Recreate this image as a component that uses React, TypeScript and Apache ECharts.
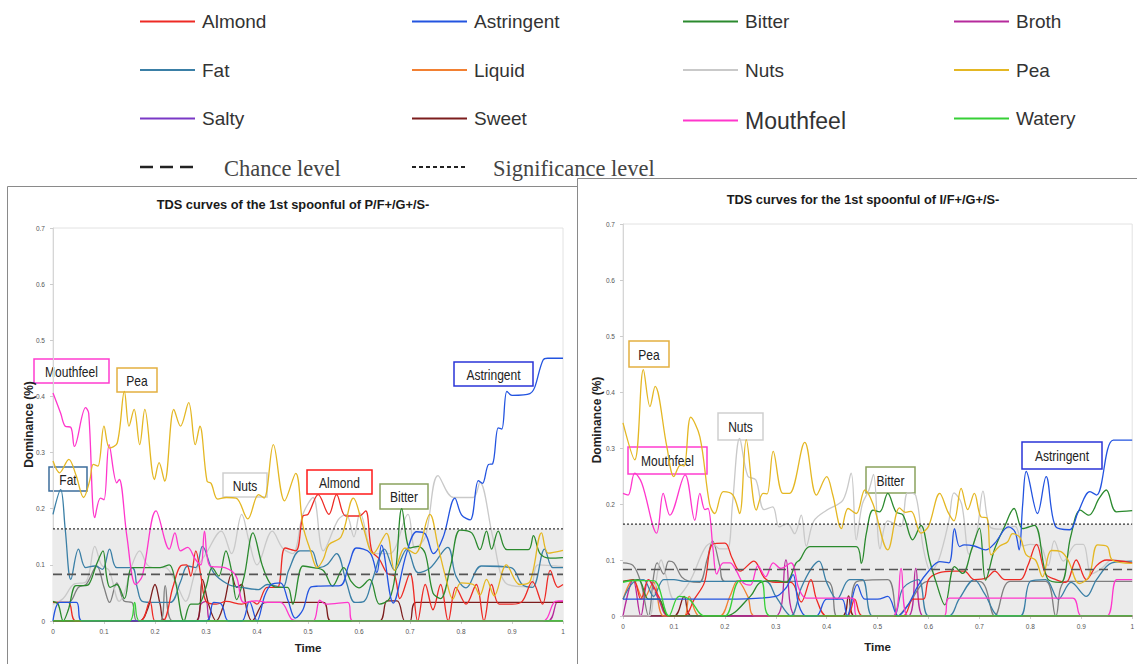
import React, { useEffect, useRef } from 'react';
import * as echarts from 'echarts';

type Pt = [number, number];

const TITLE_LEFT = 'TDS curves of the 1st spoonful of P/F+/G+/S-';
const TITLE_RIGHT = 'TDS curves for the 1st spoonful of I/F+/G+/S-';
const X_NAME = 'Time';
const Y_NAME = 'Dominance (%)';
const CHANCE_LEVEL = 0.083;
const SIGNIFICANCE_LEVEL = 0.164;

const LEGEND_COLUMNS = [
  ['Almond', 'Fat', 'Salty'],
  ['Astringent', 'Liquid', 'Sweet'],
  ['Bitter', 'Nuts', 'Mouthfeel'],
  ['Broth', 'Pea', 'Watery'],
];
const LEGEND_LEFTS = [140, 412, 683, 954];

const COLORS: Record<string, string> = {
  Almond: '#ee2a24',
  Astringent: '#2354e0',
  Bitter: '#2b8a2e',
  Broth: '#b62a9c',
  Fat: '#3a7fa6',
  Liquid: '#f28032',
  Nuts: '#c9c9c9',
  Pea: '#e4b723',
  Salty: '#7a38c6',
  Sweet: '#7c1d1d',
  Mouthfeel: '#ff36cc',
  Watery: '#36d036',
  Unlabelled: '#7f7f7f',
};

// ---------- Left chart: P/F+/G+/S- ----------
const P1_PEA: Pt[] = [[0,0.285],[0.013,0.264],[0.031,0.288],[0.045,0.26],[0.06,0.22],[0.072,0.25],[0.079,0.279],[0.088,0.276],[0.1,0.347],[0.111,0.308],[0.126,0.317],[0.14,0.409],[0.149,0.347],[0.159,0.377],[0.17,0.314],[0.18,0.377],[0.199,0.252],[0.208,0.282],[0.219,0.249],[0.237,0.377],[0.25,0.347],[0.266,0.389],[0.279,0.314],[0.288,0.347],[0.302,0.249],[0.31,0.245],[0.323,0.217],[0.34,0.22],[0.359,0.219],[0.382,0.182],[0.403,0.225],[0.414,0.219],[0.432,0.314],[0.454,0.214],[0.476,0.263],[0.49,0.17],[0.505,0.125],[0.518,0.095],[0.53,0.11],[0.541,0.136],[0.565,0.15],[0.589,0.219],[0.608,0.168],[0.628,0.12],[0.654,0.156],[0.67,0.09],[0.69,0.13],[0.71,0.12],[0.739,0.19],[0.755,0.133],[0.771,0.074],[0.784,0.039],[0.8,0.068],[0.824,0.065],[0.837,0.046],[0.85,0.074],[0.865,0.045],[0.889,0.1],[0.915,0.065],[0.935,0.07],[0.958,0.157],[0.971,0.121],[1,0.126]];
const P1_MOUTHFEEL: Pt[] = [[0,0.406],[0.015,0.37],[0.024,0.347],[0.035,0.345],[0.042,0.311],[0.064,0.38],[0.07,0.37],[0.082,0.184],[0.093,0.219],[0.1,0.216],[0.11,0.314],[0.125,0.246],[0.13,0.252],[0.145,0.15],[0.162,0.065],[0.175,0.08],[0.202,0.196],[0.228,0.128],[0.239,0.157],[0.25,0.125],[0.264,0.131],[0.279,0.11],[0.29,0.1],[0.297,0.16],[0.308,0.098],[0.337,0.095],[0.359,0.08],[0.374,0.033],[0.4,0.036],[0.42,0.033],[0.446,0.033],[0.468,0.003],[0.48,0],[0.51,0],[0.523,0.037],[0.535,0.03],[0.578,0.033],[0.588,0],[0.96,0],[0.985,0.035],[1,0.036]];
const P1_ASTRINGENT: Pt[] = [[0,0],[0.013,0.033],[0.046,0.033],[0.057,0],[0.3,0],[0.315,0.033],[0.33,0.03],[0.344,0],[0.37,0],[0.385,0.035],[0.4,0],[0.415,0.045],[0.428,0.065],[0.446,0.068],[0.461,0.036],[0.475,0.005],[0.49,0.02],[0.505,0.06],[0.52,0.062],[0.563,0.063],[0.58,0.1],[0.595,0.13],[0.622,0.121],[0.635,0.086],[0.644,0.135],[0.667,0.032],[0.693,0.12],[0.713,0.159],[0.73,0.155],[0.746,0.12],[0.765,0.149],[0.788,0.219],[0.801,0.189],[0.818,0.18],[0.834,0.25],[0.842,0.245],[0.854,0.279],[0.862,0.28],[0.873,0.344],[0.88,0.342],[0.89,0.409],[0.9,0.402],[0.935,0.405],[0.961,0.465],[0.97,0.468],[1,0.468]];
const P1_NUTS: Pt[] = [[0,0.03],[0.02,0.04],[0.04,0.065],[0.065,0.07],[0.082,0.133],[0.095,0.1],[0.11,0.09],[0.13,0.035],[0.14,0.05],[0.155,0.1],[0.17,0.125],[0.185,0.1],[0.2,0.095],[0.22,0.095],[0.24,0.07],[0.26,0.035],[0.28,0.09],[0.3,0.12],[0.33,0.16],[0.35,0.12],[0.37,0.19],[0.385,0.14],[0.4,0.1],[0.43,0.16],[0.45,0.13],[0.47,0.12],[0.49,0.19],[0.51,0.22],[0.53,0.125],[0.559,0.18],[0.575,0.19],[0.59,0.15],[0.602,0.192],[0.63,0.12],[0.66,0.12],[0.696,0.19],[0.71,0.13],[0.73,0.15],[0.755,0.259],[0.785,0.22],[0.824,0.22],[0.837,0.247],[0.863,0.147],[0.89,0.066],[0.935,0.061],[0.951,0.1],[1,0.097]];
const P1_ALMOND: Pt[] = [[0,0.033],[0.03,0.033],[0.045,0],[0.17,0],[0.19,0.035],[0.2,0],[0.215,0],[0.235,0.06],[0.25,0.098],[0.262,0.1],[0.27,0.08],[0.28,0.125],[0.29,0.08],[0.3,0.035],[0.32,0.03],[0.34,0.035],[0.37,0.03],[0.39,0.035],[0.4,0.03],[0.42,0.06],[0.44,0.06],[0.455,0.13],[0.476,0.125],[0.49,0.187],[0.5,0.19],[0.52,0.225],[0.541,0.19],[0.556,0.225],[0.574,0.187],[0.6,0.187],[0.613,0.196],[0.625,0.125],[0.64,0.11],[0.655,0.085],[0.67,0.08],[0.68,0.04],[0.7,0.085],[0.715,0],[0.73,0.065],[0.745,0.02],[0.76,0.065],[0.775,0],[0.79,0.06],[0.81,0.03],[0.83,0.065],[0.845,0],[0.86,0.065],[0.875,0.03],[0.9,0.03],[0.92,0.035],[0.94,0.07],[0.96,0.03],[0.975,0.09],[0.99,0.06],[1,0.065]];
const P1_BITTER: Pt[] = [[0,0.035],[0.01,0.03],[0.02,0],[0.03,0.02],[0.045,0.063],[0.06,0.063],[0.07,0.065],[0.085,0.1],[0.098,0.125],[0.105,0.08],[0.112,0.06],[0.125,0.065],[0.14,0.04],[0.155,0.095],[0.175,0.095],[0.21,0.095],[0.228,0.1],[0.24,0.07],[0.257,0],[0.27,0.03],[0.285,0.03],[0.3,0.06],[0.312,0.095],[0.325,0.08],[0.339,0.125],[0.35,0.09],[0.36,0.038],[0.375,0.08],[0.392,0.157],[0.41,0.1],[0.425,0.068],[0.44,0.06],[0.46,0.06],[0.47,0.03],[0.49,0.098],[0.51,0.095],[0.53,0.09],[0.548,0.062],[0.57,0.095],[0.585,0.07],[0.6,0.059],[0.621,0.074],[0.64,0.03],[0.66,0.04],[0.672,0.09],[0.684,0.2],[0.7,0.13],[0.716,0.133],[0.73,0.12],[0.745,0.05],[0.76,0.04],[0.78,0.1],[0.798,0.162],[0.821,0.157],[0.837,0.127],[0.85,0.16],[0.86,0.128],[0.873,0.16],[0.89,0.127],[0.932,0.127],[0.942,0.152],[0.955,0.12],[0.975,0.112],[1,0.113]];
const P1_FAT: Pt[] = [[0,0.19],[0.015,0.234],[0.024,0.163],[0.035,0.074],[0.05,0.128],[0.064,0.095],[0.082,0.098],[0.097,0.092],[0.111,0.128],[0.125,0.095],[0.155,0.095],[0.165,0.06],[0.175,0.035],[0.2,0.033],[0.23,0.033],[0.25,0.07],[0.264,0.098],[0.28,0.095],[0.293,0.133],[0.315,0.086],[0.344,0.065],[0.37,0.06],[0.403,0.056],[0.42,0.065],[0.45,0.06],[0.462,0.09],[0.484,0.125],[0.507,0.125],[0.522,0.095],[0.537,0.1],[0.556,0.12],[0.575,0.07],[0.592,0.033],[0.61,0.035],[0.625,0.07],[0.65,0.128],[0.67,0.09],[0.694,0.128],[0.716,0.086],[0.74,0.095],[0.774,0.131],[0.79,0.08],[0.81,0.059],[0.84,0.098],[0.898,0.095],[0.92,0.065],[0.94,0.06],[0.964,0.128],[0.98,0.095],[1,0.095]];
const P1_SWEET: Pt[] = [[0,0],[0.17,0],[0.185,0.02],[0.2,0.065],[0.21,0.03],[0.22,0],[0.28,0],[0.293,0.074],[0.305,0.03],[0.32,0],[0.335,0.03],[0.35,0.083],[0.36,0.06],[0.37,0.065],[0.38,0.02],[0.39,0],[0.41,0.03],[0.42,0.033],[0.53,0.033],[0.545,0],[0.64,0],[0.655,0.036],[0.675,0.036],[0.69,0],[0.7,0],[0.712,0.033],[1,0.033]];
const P1_UNLABELLED: Pt[] = [[0,0.033],[0.03,0.033],[0.05,0.06],[0.065,0.065],[0.086,0.098],[0.1,0.06],[0.111,0.033],[0.125,0.068],[0.14,0.035],[0.155,0.033],[0.165,0],[0.21,0],[0.22,0.063],[0.235,0],[1,0]];
const P1_BROTH: Pt[] = [[0,0],[0.28,0],[0.29,0.03],[0.3,0.035],[0.31,0],[0.97,0],[0.99,0.035],[1,0.035]];
const P1_LIQUID: Pt[] = [[0,0],[1,0]];
const P1_SALTY: Pt[] = [[0,0],[1,0]];
const P1_WATERY: Pt[] = [[0,0],[0.15,0],[0.16,0.033],[0.17,0],[1,0]];

// ---------- Right chart: I/F+/G+/S- ----------
const P2_PEA: Pt[] = [[0,0.345],[0.023,0.279],[0.04,0.44],[0.053,0.374],[0.063,0.41],[0.086,0.303],[0.1,0.249],[0.113,0.27],[0.12,0.268],[0.133,0.355],[0.151,0.32],[0.17,0.2],[0.18,0.183],[0.197,0.222],[0.216,0.216],[0.229,0.183],[0.242,0.315],[0.262,0.189],[0.275,0.219],[0.283,0.218],[0.295,0.294],[0.314,0.219],[0.327,0.219],[0.357,0.31],[0.38,0.216],[0.4,0.249],[0.412,0.216],[0.429,0.156],[0.442,0.192],[0.458,0.183],[0.475,0.225],[0.491,0.2],[0.52,0.118],[0.543,0.193],[0.555,0.185],[0.566,0.187],[0.585,0.148],[0.6,0.16],[0.622,0.219],[0.638,0.186],[0.65,0.17],[0.664,0.228],[0.677,0.19],[0.69,0.219],[0.703,0.177],[0.715,0.175],[0.723,0.109],[0.74,0.125],[0.755,0.132],[0.765,0.147],[0.78,0.14],[0.792,0.109],[0.81,0.1],[0.824,0.07],[0.841,0.117],[0.86,0.115],[0.874,0.1],[0.896,0.058],[0.915,0.07],[0.932,0.127],[0.951,0.124],[0.961,0.1],[1,0.094]];
const P2_MOUTHFEEL: Pt[] = [[0,0.219],[0.01,0.216],[0.023,0.255],[0.037,0.237],[0.066,0.148],[0.079,0.219],[0.092,0.18],[0.122,0.252],[0.141,0.171],[0.151,0.219],[0.161,0.19],[0.167,0.192],[0.177,0.118],[0.184,0.075],[0.197,0.095],[0.21,0.095],[0.223,0.08],[0.235,0.06],[0.25,0.055],[0.265,0.09],[0.28,0.07],[0.295,0.095],[0.31,0.085],[0.33,0.095],[0.345,0.05],[0.36,0.032],[0.45,0.032],[0.46,0],[0.53,0],[0.546,0.085],[0.56,0],[0.63,0],[0.641,0.032],[0.883,0.032],[0.9,0],[0.95,0],[0.97,0.065],[1,0.065]];
const P2_ASTRINGENT: Pt[] = [[0,0.03],[0.1,0.03],[0.2,0.03],[0.3,0.035],[0.32,0.05],[0.334,0.074],[0.345,0.02],[0.36,0],[0.38,0],[0.4,0.03],[0.43,0.03],[0.44,0],[0.46,0.056],[0.475,0.03],[0.5,0.03],[0.52,0.035],[0.54,0],[0.56,0.02],[0.58,0.055],[0.6,0.08],[0.622,0.097],[0.64,0.095],[0.651,0.156],[0.661,0.124],[0.67,0.127],[0.69,0.125],[0.712,0.118],[0.73,0.13],[0.757,0.159],[0.77,0.15],[0.778,0.118],[0.785,0.2],[0.792,0.258],[0.814,0.183],[0.831,0.249],[0.85,0.159],[0.877,0.154],[0.894,0.186],[0.917,0.222],[0.93,0.216],[0.963,0.314],[1,0.314]];
const P2_BITTER: Pt[] = [[0,0.062],[0.03,0.065],[0.05,0.03],[0.07,0.03],[0.09,0],[0.2,0],[0.25,0.035],[0.27,0.06],[0.3,0.063],[0.32,0.06],[0.34,0.095],[0.347,0.1],[0.367,0.124],[0.458,0.124],[0.468,0.094],[0.478,0.148],[0.491,0.189],[0.504,0.186],[0.52,0.219],[0.536,0.186],[0.55,0.18],[0.569,0.136],[0.585,0.162],[0.602,0.1],[0.615,0.06],[0.632,0.02],[0.651,0.088],[0.667,0.076],[0.685,0.12],[0.7,0.157],[0.712,0.064],[0.73,0.12],[0.749,0.159],[0.768,0.192],[0.785,0.156],[0.808,0.162],[0.834,0.066],[0.86,0.06],[0.879,0.141],[0.898,0.189],[0.915,0.18],[0.935,0.21],[0.949,0.225],[0.969,0.186],[1,0.188]];
const P2_NUTS: Pt[] = [[0,0],[0.05,0],[0.06,0.035],[0.075,0.1],[0.085,0.07],[0.1,0.03],[0.13,0.06],[0.16,0.12],[0.175,0.13],[0.19,0.12],[0.205,0.12],[0.215,0.2],[0.229,0.317],[0.245,0.25],[0.261,0.243],[0.277,0.19],[0.294,0.195],[0.307,0.159],[0.323,0.165],[0.337,0.147],[0.35,0.18],[0.36,0.125],[0.375,0.17],[0.4,0.189],[0.432,0.207],[0.448,0.255],[0.458,0.136],[0.47,0.2],[0.483,0.225],[0.492,0.253],[0.505,0.12],[0.52,0.17],[0.545,0.16],[0.559,0.22],[0.575,0.215],[0.59,0.12],[0.605,0.08],[0.62,0.1],[0.64,0.17],[0.65,0.22],[0.665,0.2],[0.68,0.11],[0.695,0.15],[0.707,0.223],[0.72,0.16],[0.74,0.155],[0.77,0.16],[0.785,0.125],[0.8,0.128],[0.82,0.125],[0.835,0.09],[0.847,0.134],[0.865,0.098],[0.89,0.128],[0.904,0.128],[0.92,0.075],[0.94,0.085],[0.96,0.1],[1,0.095]];
const P2_UNLABELLED: Pt[] = [[0,0.095],[0.02,0.09],[0.035,0.06],[0.05,0],[0.06,0.07],[0.067,0.095],[0.08,0.075],[0.09,0.098],[0.1,0.095],[0.115,0.07],[0.13,0.062],[0.15,0.06],[0.165,0.1],[0.176,0.134],[0.19,0.09],[0.2,0.062],[0.4,0.062],[0.42,0],[0.44,0],[0.46,0.062],[0.52,0.065],[0.54,0],[0.56,0.02],[0.6,0.062],[0.7,0.062],[0.73,0],[0.76,0.062],[0.83,0.062],[0.85,0],[0.87,0.062],[1,0.062]];
const P2_ALMOND: Pt[] = [[0,0.062],[0.02,0.065],[0.035,0.03],[0.05,0.065],[0.07,0.035],[0.09,0],[0.12,0],[0.14,0.03],[0.16,0.06],[0.176,0.128],[0.2,0.13],[0.214,0.104],[0.23,0.08],[0.257,0.098],[0.278,0.068],[0.3,0.06],[0.33,0.06],[0.35,0.025],[0.369,0.065],[0.38,0.03],[0.4,0],[0.44,0],[0.455,0.03],[0.47,0],[0.55,0],[0.57,0.03],[0.59,0.03],[0.6,0.065],[0.62,0.077],[0.65,0.08],[0.67,0.08],[0.69,0.065],[0.714,0.068],[0.73,0.08],[0.75,0.065],[0.78,0.065],[0.795,0.09],[0.812,0.128],[0.83,0.075],[0.85,0.065],[0.87,0.06],[0.89,0.1],[0.91,0.065],[0.93,0.09],[0.95,0.1],[1,0.095]];
const P2_FAT: Pt[] = [[0,0.03],[0.02,0.06],[0.04,0.065],[0.06,0.035],[0.08,0.065],[0.1,0.065],[0.12,0.062],[0.28,0.062],[0.3,0.035],[0.33,0],[0.35,0.05],[0.37,0.085],[0.385,0.098],[0.4,0.06],[0.42,0.03],[0.445,0.065],[0.47,0.065],[0.49,0],[0.53,0],[0.55,0.05],[0.58,0.065],[0.6,0],[0.64,0],[0.66,0.03],[0.69,0.065],[0.71,0.04],[0.74,0],[0.78,0],[0.8,0.062],[0.83,0.065],[0.855,0.03],[0.88,0.06],[0.91,0.035],[0.93,0.065],[0.96,0.095],[1,0.098]];
const P2_LIQUID: Pt[] = [[0,0.03],[0.02,0.065],[0.04,0.03],[0.06,0.06],[0.08,0],[0.12,0],[0.13,0.035],[0.15,0],[0.19,0],[0.21,0.035],[0.225,0.063],[0.245,0.035],[0.26,0],[1,0]];
const P2_BROTH: Pt[] = [[0,0],[0.02,0.065],[0.035,0],[0.05,0.065],[0.07,0.03],[0.09,0],[0.3,0],[0.32,0.1],[0.34,0],[0.56,0],[0.575,0.085],[0.59,0],[1,0]];
const P2_SWEET: Pt[] = [[0,0],[0.1,0],[0.12,0.035],[0.135,0],[0.43,0],[0.443,0.036],[0.455,0],[1,0]];
const P2_SALTY: Pt[] = [[0,0],[1,0]];
const P2_WATERY: Pt[] = [[0,0.06],[0.02,0.063],[0.06,0.063],[0.09,0],[0.11,0.035],[0.13,0.03],[0.16,0],[0.2,0],[0.23,0.063],[0.27,0.063],[0.29,0],[1,0]];

const LEFT_SERIES: [string, Pt[]][] = [
  ['Salty', P1_SALTY], ['Liquid', P1_LIQUID], ['Broth', P1_BROTH], ['Sweet', P1_SWEET],
  ['Unlabelled', P1_UNLABELLED], ['Nuts', P1_NUTS], ['Fat', P1_FAT], ['Almond', P1_ALMOND],
  ['Bitter', P1_BITTER], ['Astringent', P1_ASTRINGENT], ['Mouthfeel', P1_MOUTHFEEL],
  ['Pea', P1_PEA], ['Watery', P1_WATERY],
];
const RIGHT_SERIES: [string, Pt[]][] = [
  ['Salty', P2_SALTY], ['Sweet', P2_SWEET], ['Liquid', P2_LIQUID], ['Broth', P2_BROTH],
  ['Unlabelled', P2_UNLABELLED], ['Nuts', P2_NUTS], ['Fat', P2_FAT], ['Almond', P2_ALMOND],
  ['Bitter', P2_BITTER], ['Astringent', P2_ASTRINGENT], ['Mouthfeel', P2_MOUTHFEEL],
  ['Pea', P2_PEA], ['Watery', P2_WATERY],
];

// annotation labels (layout)
const ANNOTATIONS = [
  { text: 'Mouthfeel', color: '#ff3ccf', x: 34, y: 359, w: 75, h: 24 },
  { text: 'Pea', color: '#e3b040', x: 117, y: 368, w: 40, h: 24 },
  { text: 'Fat', color: '#3d6e9c', x: 49, y: 467, w: 38, h: 24 },
  { text: 'Nuts', color: '#cfcfcf', x: 223, y: 473, w: 44, h: 24 },
  { text: 'Almond', color: '#ff1a1a', x: 307, y: 470, w: 65, h: 24 },
  { text: 'Bitter', color: '#8aa35e', x: 380, y: 484, w: 48, h: 25 },
  { text: 'Astringent', color: '#2a34d8', x: 454, y: 362, w: 79, h: 24 },
  { text: 'Pea', color: '#e3b040', x: 629, y: 341, w: 40, h: 26 },
  { text: 'Nuts', color: '#cfcfcf', x: 718, y: 413, w: 45, h: 27 },
  { text: 'Mouthfeel', color: '#ff3ccf', x: 628, y: 447, w: 79, h: 27 },
  { text: 'Bitter', color: '#8aa35e', x: 866, y: 467, w: 49, h: 26 },
  { text: 'Astringent', color: '#2a34d8', x: 1022, y: 442, w: 80, h: 27 },
];

function lineSeries(name: string, data: Pt[], idx: number) {
  const color = COLORS[name];
  return {
    type: 'line', name, data, xAxisIndex: idx, yAxisIndex: idx,
    smooth: 0.35, symbol: 'none', showSymbol: false, silent: true,
    color, itemStyle: { color },
    lineStyle: { width: 1.3, color },
  };
}

function refSeries(idx: number) {
  return [
    {
      type: 'line', name: 'band', data: [[0, SIGNIFICANCE_LEVEL], [1, SIGNIFICANCE_LEVEL]],
      xAxisIndex: idx, yAxisIndex: idx, symbol: 'none', silent: true, z: 1,
      lineStyle: { width: 0, opacity: 0 },
      areaStyle: { color: '#ebebeb', opacity: 1, origin: 'start' },
    },
  ];
}

function levelSeries(idx: number) {
  return [
    {
      type: 'line', name: 'Chance level', data: [[0, CHANCE_LEVEL], [1, CHANCE_LEVEL]],
      xAxisIndex: idx, yAxisIndex: idx, symbol: 'none', silent: true, z: 5,
      lineStyle: { width: 1.6, color: '#555555', type: [9, 5] },
    },
    {
      type: 'line', name: 'Significance level', data: [[0, SIGNIFICANCE_LEVEL], [1, SIGNIFICANCE_LEVEL]],
      xAxisIndex: idx, yAxisIndex: idx, symbol: 'none', silent: true, z: 5,
      lineStyle: { width: 1.3, color: '#333333', type: [2, 2] },
    },
  ];
}

function xAxis(idx: number, gap: number) {
  return {
    type: 'value', gridIndex: idx, min: 0, max: 1, interval: 0.1,
    name: X_NAME, nameLocation: 'middle', nameGap: gap,
    nameTextStyle: { fontSize: 11.5, fontWeight: 'bold', color: '#222' },
    axisLine: { show: true, lineStyle: { color: '#d6d6d6' } },
    axisTick: { show: true, length: 3, lineStyle: { color: '#cccccc' } },
    axisLabel: { fontSize: 6.5, color: '#555', margin: 7 },
    splitLine: { show: false },
  };
}
function yAxis(idx: number, gap: number) {
  return {
    type: 'value', gridIndex: idx, min: 0, max: 0.7, interval: 0.1,
    name: Y_NAME, nameLocation: 'middle', nameGap: gap, nameRotate: 90,
    nameMoveOverlap: false,
    nameTextStyle: { fontSize: 12, fontWeight: 'bold', color: '#222' },
    axisLine: { show: true, lineStyle: { color: '#d6d6d6' } },
    axisTick: { show: true, length: 3, lineStyle: { color: '#cccccc' } },
    axisLabel: { fontSize: 6.5, color: '#555', margin: 8 },
    splitLine: { show: false },
  };
}

export default function App() {
  const ref = useRef<HTMLDivElement>(null);
  useEffect(() => {
    if (!ref.current) return;
    const chart = echarts.init(ref.current, undefined, { renderer: 'svg' });

    const legends = LEGEND_COLUMNS.map((col, i) => ({
      left: LEGEND_LEFTS[i], top: 12, orient: 'vertical', selectedMode: false,
      padding: 0,
      icon: 'rect',
      itemWidth: 55, itemHeight: 2, itemGap: 29.5,
      textStyle: { fontSize: 19, color: '#333', fontFamily: 'Liberation Sans', padding: [0, 0, 0, 2] },
      data: col.map((n) => (n === 'Mouthfeel'
        ? { name: n, textStyle: { fontSize: 23 } }
        : { name: n })),
    }));

    const graphics: any[] = [
      { type: 'rect', shape: { x: 7.5, y: 186.5, width: 570, height: 520 }, style: { fill: 'none', stroke: '#8a8a8a', lineWidth: 1 }, silent: true, z: -1 },
      { type: 'rect', shape: { x: 577.5, y: 178.5, width: 600, height: 520 }, style: { fill: 'none', stroke: '#8a8a8a', lineWidth: 1 }, silent: true, z: -1 },
      { type: 'text', x: 293, y: 204, scaleX: 0.95, style: { text: TITLE_LEFT, fontSize: 13.5, fontWeight: 'bold', fill: '#1a1a1a', align: 'center', verticalAlign: 'middle', fontFamily: 'Liberation Sans' } },
      { type: 'text', x: 863, y: 199, scaleX: 0.95, style: { text: TITLE_RIGHT, fontSize: 13.5, fontWeight: 'bold', fill: '#1a1a1a', align: 'center', verticalAlign: 'middle', fontFamily: 'Liberation Sans' } },
      { type: 'line', shape: { x1: 140, y1: 167, x2: 197, y2: 167 }, style: { stroke: '#222', lineWidth: 2.5, lineDash: [13, 7] } },
      { type: 'text', x: 224, y: 168, style: { text: 'Chance level', fontSize: 22.5, fill: '#444', fontFamily: 'Liberation Serif', verticalAlign: 'middle' } },
      { type: 'line', shape: { x1: 412, y1: 167, x2: 466, y2: 167 }, style: { stroke: '#222', lineWidth: 2, lineDash: [4, 3] } },
      { type: 'text', x: 493, y: 168, style: { text: 'Significance level', fontSize: 22.5, fill: '#444', fontFamily: 'Liberation Serif', verticalAlign: 'middle' } },
    ];
    ANNOTATIONS.forEach((a) => {
      graphics.push({
        type: 'group', x: a.x, y: a.y, z: 10,
        children: [
          { type: 'rect', shape: { x: 0, y: 0, width: a.w, height: a.h }, style: { fill: 'none', stroke: a.color, lineWidth: 1.5 } },
          { type: 'text', x: a.w / 2, y: a.h / 2 + 1, scaleX: 0.86, style: { text: a.text, fontSize: 14, fill: '#222', align: 'center', verticalAlign: 'middle', fontFamily: 'Liberation Sans' } },
        ],
      });
    });

    const series: any[] = [
      ...refSeries(0), ...refSeries(1),
      ...LEFT_SERIES.map(([n, d]) => lineSeries(n, d, 0)),
      ...RIGHT_SERIES.map(([n, d]) => lineSeries(n, d, 1)),
      ...levelSeries(0), ...levelSeries(1),
    ];

    chart.setOption({
      animation: false,
      textStyle: { fontFamily: 'Liberation Sans' },
      legend: legends,
      grid: [
        { left: 53, top: 228, width: 510, height: 393, show: true, borderColor: '#e2e2e2', borderWidth: 1, containLabel: false },
        { left: 623, top: 224, width: 510, height: 392, show: true, borderColor: '#e2e2e2', borderWidth: 1, containLabel: false },
      ],
      xAxis: [xAxis(0, 21), xAxis(1, 25)],
      yAxis: [yAxis(0, 18), yAxis(1, 20)],
      graphic: graphics,
      series,
    });
    return () => chart.dispose();
  }, []);
  return <div ref={ref} style={{ position: 'fixed', left: 0, top: 0, width: 1137, height: 664, background: '#fff' }} />;
}
